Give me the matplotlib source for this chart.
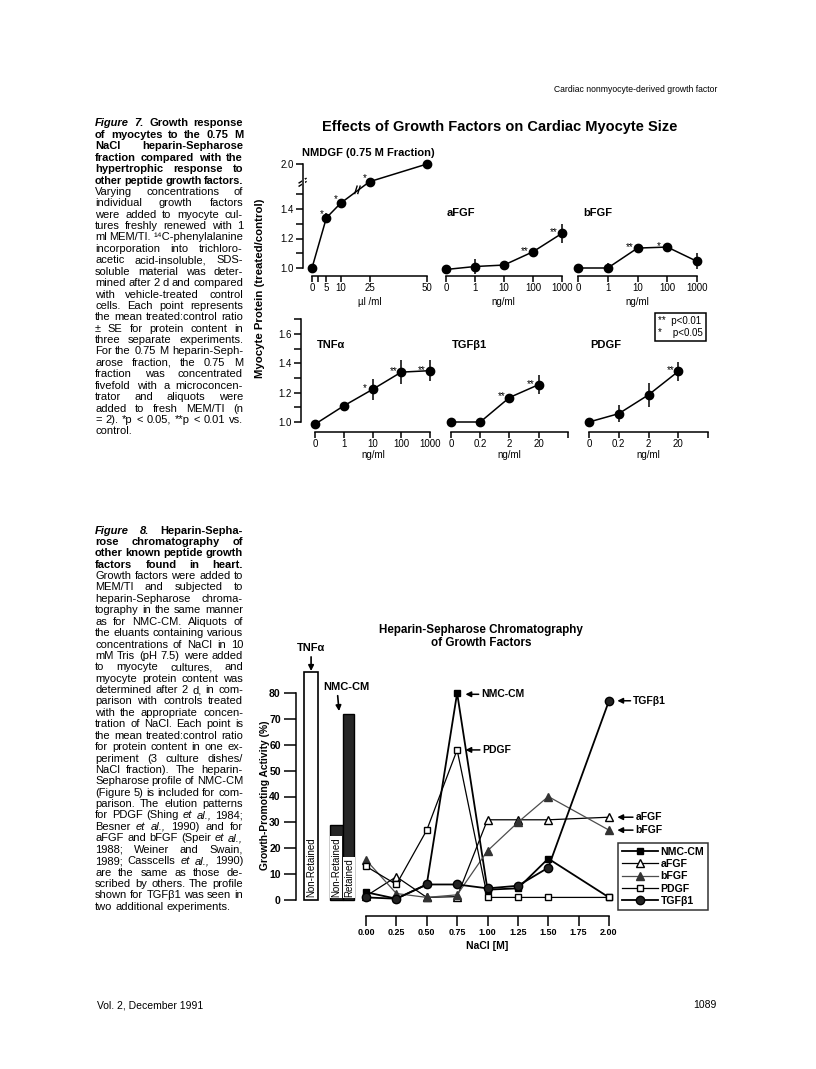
import matplotlib
matplotlib.use('Agg')
import matplotlib.pyplot as plt
from matplotlib.lines import Line2D
from matplotlib import font_manager

plt.rcParams['font.family'] = ['Liberation Sans', 'DejaVu Sans']
plt.rcParams['axes.linewidth'] = 1.1

# ---- Figure 7 data (treated/control ratios) ----
nmdgf_dose = [0, 6.25, 12.5, 25, 50]
nmdgf_val = [1.0, 1.34, 1.44, 1.88, 2.0]
nmdgf_err = [0, 0.03, 0.02, 0.015, 0]
nmdgf_sig = ['', '*', '*', '*', '']

ng_labels_5 = ['0', '1', '10', '100', '1000']
ng_labels_4 = ['0', '0.2', '2', '20', '']

afgf_val = [0.99, 1.01, 1.02, 1.11, 1.235]
afgf_err = [0, 0.05, 0.03, 0.01, 0.066]
afgf_sig = ['', '', '', '**', '**']

bfgf_val = [1.0, 1.0, 1.135, 1.142, 1.045]
bfgf_err = [0, 0.034, 0.01, 0.03, 0.054]
bfgf_sig = ['', '', '**', '*', '']

tnf_val = [0.985, 1.11, 1.222, 1.34, 1.35]
tnf_err = [0, 0.005, 0.07, 0.084, 0.07]
tnf_sig = ['', '', '*', '**', '**']

tgf_val = [1.0, 1.0, 1.167, 1.255]
tgf_err = [0, 0, 0.01, 0.065]
tgf_sig = ['', '', '**', '**']

pdgf_val = [1.0, 1.057, 1.185, 1.345]
pdgf_err = [0, 0.057, 0.08, 0.065]
pdgf_sig = ['', '', '', '**']

# ---- Figure 8 data (growth-promoting activity, %) ----
nacl = [0, 0.25, 0.5, 0.75, 1.0, 1.25, 1.5, 2.0]
nacl_ticks = [0, 0.25, 0.5, 0.75, 1.0, 1.25, 1.5, 1.75, 2.0]
nmc_cm = [3, 0.5, 6, 80, 4, 4.5, 16, 1]
afgf_hs = [1.5, 9, 1, 1.3, 31, 31, 31, 32]
bfgf_hs = [15.5, 2.5, 1, 2, 19, 30, 40, 27]
pdgf_hs = [13, 6, 27, 58, 1, 1, 1, 1]
tgfb1_hs = [1, 0.5, 6, 6, 4.5, 5.5, 12.5, 77]
bar_names = ['TNFα Non-Retained', 'NMC-CM Non-Retained', 'NMC-CM Retained']
bar_vals = [88, 29, 72]

W, H = 816, 1069
fig = plt.figure(figsize=(W / 100, H / 100), dpi=100)
fig.patch.set_facecolor('white')

installed = {f.name for f in font_manager.fontManager.ttflist}
narrow = 'Liberation Sans Narrow' if 'Liberation Sans Narrow' in installed else 'Liberation Sans'


def fx(px):
    return px / W


def fy(py):
    return 1 - py / H


def make_ax(xmap, ymap, xlim, ylim):
    # xmap/ymap: (data0, pixel0, data1, pixel1) -> axes placed so data lands on page pixels
    xd0, xp0, xd1, xp1 = xmap
    yd0, yp0, yd1, yp1 = ymap
    sx = (xp1 - xp0) / (xd1 - xd0)
    sy = (yp1 - yp0) / (yd1 - yd0)
    left = xp0 + (xlim[0] - xd0) * sx
    right = xp0 + (xlim[1] - xd0) * sx
    bottom = yp0 + (ylim[0] - yd0) * sy
    top = yp0 + (ylim[1] - yd0) * sy
    ax = fig.add_axes([left / W, 1 - bottom / H, (right - left) / W, (bottom - top) / H])
    ax.set_xlim(xlim)
    ax.set_ylim(ylim)
    ax.patch.set_visible(False)
    for s in ax.spines.values():
        s.set_visible(False)
    return ax


def stars(ax, xs, ys, sig, dx=-8, dy=-2):
    for xi, v, s in zip(xs, ys, sig):
        if s:
            ax.annotate(s, (xi, v), xytext=(dx, dy), textcoords='offset pixels',
                        ha='center', va='baseline', fontsize=7)


def dose_panel(ax, vals, errs, sig, labels):
    xs = list(range(len(vals)))
    ax.errorbar(xs, vals, yerr=errs, fmt='-o', color='black', ms=6, lw=1.1,
                elinewidth=1.1, capsize=0)
    stars(ax, xs, vals, sig)
    ax.spines['bottom'].set_visible(True)
    ax.spines['bottom'].set_bounds(0, len(labels) - 1)
    ax.set_xticks(range(len(labels)))
    ax.set_xticklabels(labels, fontsize=7)
    ax.tick_params(axis='x', direction='out', length=4, width=1.1, pad=1)
    ax.set_yticks([])


def ratio_axis(ax, ticks, labels, top):
    ax.spines['left'].set_visible(True)
    ax.spines['left'].set_bounds(1.0, top)
    ax.set_yticks(ticks)
    ax.set_yticklabels(labels, fontsize=7)
    ax.tick_params(axis='y', direction='out', length=5, width=1.1, pad=1.5)


# ================= Figure 7 =================
fig.text(fx(500), fy(127), 'Effects of Growth Factors on Cardiac Myocyte Size',
         ha='center', va='center', fontsize=10.5, weight='bold')

# NMDGF panel with a broken axis above 1.5
brk = 0.295
disp = [v if v < 1.6 else v - brk for v in nmdgf_val]
ax = make_ax((0, 312, 50, 427), (1.0, 268, 1.4, 209), (-4.1, 55), (0.946, 1.76))
ax.errorbar(nmdgf_dose, disp, yerr=nmdgf_err, fmt='-o', color='black', ms=6, lw=1.1,
            elinewidth=1.1, capsize=0)
stars(ax, nmdgf_dose, disp, nmdgf_sig, dx=-5, dy=1)
ratio_axis(ax, [1.0, 1.1, 1.2, 1.3, 1.4, 1.5, 2.0 - brk],
           ['1.0', '', '1.2', '', '1.4', '', '2.0'], 2.0 - brk)
ax.spines['bottom'].set_visible(True)
ax.spines['bottom'].set_bounds(0, 50)
ax.set_xticks([0, 2.5, 6.25, 12.5, 25, 50])
ax.set_xticklabels(['0', '', '5', '10', '25', '50'], fontsize=7)
ax.tick_params(axis='x', direction='out', length=4, width=1.1, pad=1)
# break marks on axis and on the line
for off in (0.0, 0.022):
    ax.plot([-5.6, -2.6], [1.555 + off, 1.585 + off], color='black', lw=1.0, clip_on=False)
    ax.plot([18.6 + off * 60, 19.6 + off * 60], [1.505, 1.555], color='black', lw=1.0)
ax.plot([-4.1, -4.1], [1.568, 1.596], color='white', lw=2.2, clip_on=False)

fig.text(fx(302), fy(153), 'NMDGF (0.75 M Fraction)', ha='left', va='center',
         fontsize=8, weight='bold')
fig.text(fx(370), fy(302), 'µl /ml', ha='center', va='center', fontsize=7)

ax = make_ax((0, 446, 4, 562), (1.0, 268, 1.4, 209), (-0.4, 4.3), (0.946, 1.76))
dose_panel(ax, afgf_val, afgf_err, afgf_sig, ng_labels_5)
fig.text(fx(447), fy(213), 'aFGF', ha='left', va='center', fontsize=8, weight='bold')
fig.text(fx(503), fy(302), 'ng/ml', ha='center', va='center', fontsize=7)

ax = make_ax((0, 578, 4, 697), (1.0, 268, 1.4, 209), (-0.4, 4.3), (0.946, 1.76))
dose_panel(ax, bfgf_val, bfgf_err, bfgf_sig, ng_labels_5)
fig.text(fx(583), fy(213), 'bFGF', ha='left', va='center', fontsize=8, weight='bold')
fig.text(fx(637), fy(302), 'ng/ml', ha='center', va='center', fontsize=7)

ax = make_ax((0, 315, 4, 430), (1.0, 422, 1.6, 334), (-0.5, 4.3), (0.932, 1.72))
dose_panel(ax, tnf_val, tnf_err, tnf_sig, ng_labels_5)
ratio_axis(ax, [1.0, 1.1, 1.2, 1.3, 1.4, 1.5, 1.6, 1.7],
           ['1.0', '', '1.2', '', '1.4', '', '1.6', ''], 1.7)
fig.text(fx(317), fy(345), 'TNFα', ha='left', va='center', fontsize=8, weight='bold')
fig.text(fx(373), fy(455), 'ng/ml', ha='center', va='center', fontsize=7)

ax = make_ax((0, 451, 4, 568), (1.0, 422, 1.6, 334), (-0.4, 4.3), (0.932, 1.72))
dose_panel(ax, tgf_val, tgf_err, tgf_sig, ng_labels_4)
fig.text(fx(452), fy(345), 'TGFβ1', ha='left', va='center', fontsize=8, weight='bold')
fig.text(fx(509), fy(455), 'ng/ml', ha='center', va='center', fontsize=7)

ax = make_ax((0, 589, 4, 708), (1.0, 422, 1.6, 334), (-0.4, 4.3), (0.932, 1.72))
dose_panel(ax, pdgf_val, pdgf_err, pdgf_sig, ng_labels_4)
fig.text(fx(590), fy(345), 'PDGF', ha='left', va='center', fontsize=8, weight='bold')
fig.text(fx(648), fy(455), 'ng/ml', ha='center', va='center', fontsize=7)
fig.text(fx(658), fy(327), '**  p<0.01\n*    p<0.05', ha='left', va='center', fontsize=7,
         linespacing=1.2,
         bbox=dict(boxstyle='square,pad=0.3', fc='white', ec='black', lw=1.1))

fig.text(fx(260), fy(288), 'Myocyte Protein (treated/control)', rotation=90,
         ha='center', va='center', fontsize=8.2, weight='bold')

# ================= Figure 8 =================
fig.text(fx(481), fy(630), 'Heparin-Sepharose Chromatography', ha='center', va='center',
         fontsize=8.4, weight='bold')
fig.text(fx(481), fy(643), 'of Growth Factors', ha='center', va='center',
         fontsize=8.4, weight='bold')

ax = make_ax((0, 366, 2.0, 609), (0, 900, 80, 693), (-0.576, 2.914), (-6.2, 100))
ax.spines['left'].set_visible(True)
ax.spines['left'].set_bounds(0, 80)
ax.spines['bottom'].set_visible(True)
ax.spines['bottom'].set_bounds(0, 2.0)
ax.set_yticks(range(0, 90, 10))
ax.set_yticklabels([str(v) for v in range(0, 90, 10)], fontsize=7.5, weight='bold')
ax.set_xticks(nacl_ticks)
ax.set_xticklabels(['%.2f' % v for v in nacl_ticks], fontsize=6.5, weight='bold')
ax.tick_params(axis='y', direction='out', length=9, width=1.1, pad=2)
ax.tick_params(axis='x', direction='out', length=7, width=1.1, pad=1.5)
fig.text(fx(487), fy(946), 'NaCl [M]', ha='center', va='center', fontsize=7.5, weight='bold')
fig.text(fx(265), fy(795), 'Growth-Promoting Activity (%)', rotation=90, ha='center',
         va='center', fontsize=7.4, weight='bold')

# bars for non-retained / retained fractions
bar_x = [-0.452, -0.245, -0.141]
bar_w = [0.112, 0.104, 0.09]
ax.bar(bar_x[0], bar_vals[0], width=bar_w[0], color='white', edgecolor='black', lw=1.2)
ax.bar(bar_x[1:], bar_vals[1:], width=bar_w[1:], color='#262626', edgecolor='black', lw=1.0)
ax.text(bar_x[0], 1.2, 'Non-Retained', rotation=90, ha='center', va='bottom', fontsize=7)
ax.text(bar_x[1], 1.2, 'Non-Retained', rotation=90, ha='center', va='bottom', fontsize=7,
        bbox=dict(boxstyle='square,pad=0.12', fc='white', ec='none'))
ax.text(bar_x[2], 1.2, 'Retained', rotation=90, ha='center', va='bottom', fontsize=7,
        bbox=dict(boxstyle='square,pad=0.12', fc='white', ec='none'))
arw = dict(arrowstyle='-|>', color='black', lw=1.2, mutation_scale=8, shrinkA=1, shrinkB=0)
ax.annotate('TNFα', xy=(bar_x[0], 88.5), xytext=(bar_x[0], 97.5), ha='center', va='center',
            fontsize=8, weight='bold', arrowprops=arw, annotation_clip=False)
ax.annotate('NMC-CM', xy=(-0.222, 73), xytext=(-0.16, 82.5), ha='center', va='center',
            fontsize=8, weight='bold',
            arrowprops=dict(arw, relpos=(0.3, 0.0)), annotation_clip=False)

styles = [
    ('NMC-CM', nmc_cm, dict(color='black', lw=1.3, marker='s', ms=5, mfc='black', mec='black')),
    ('aFGF', afgf_hs, dict(color='black', lw=0.9, marker='^', ms=6, mfc='white', mec='black')),
    ('bFGF', bfgf_hs, dict(color='#4d4d4d', lw=0.9, marker='^', ms=6, mfc='#333333', mec='#333333')),
    ('PDGF', pdgf_hs, dict(color='black', lw=0.9, marker='s', ms=5, mfc='white', mec='black')),
    ('TGFβ1', tgfb1_hs, dict(color='black', lw=1.3, marker='o', ms=6, mfc='#222222', mec='black')),
]
handles = []
for name, vals, st in styles:
    ax.plot(nacl, vals, clip_on=False, zorder=3, **st)
    handles.append(Line2D([], [], label=name, **st))

side = dict(arrowstyle='-|>', color='black', lw=1.1, mutation_scale=8, shrinkA=0, shrinkB=6)
ax.annotate('NMC-CM', xy=(0.75, 79.5), xytext=(0.95, 79.5), ha='left', va='center',
            fontsize=7.5, weight='bold', arrowprops=side)
ax.annotate('PDGF', xy=(0.75, 58), xytext=(0.96, 58), ha='left', va='center',
            fontsize=7.5, weight='bold', arrowprops=side)
ax.annotate('TGFβ1', xy=(2.0, 77), xytext=(2.2, 77), ha='left', va='center',
            fontsize=7.5, weight='bold', arrowprops=side)
ax.annotate('aFGF', xy=(2.0, 32), xytext=(2.22, 32), ha='left', va='center',
            fontsize=7.5, weight='bold', arrowprops=side)
ax.annotate('bFGF', xy=(2.0, 27), xytext=(2.22, 27), ha='left', va='center',
            fontsize=7.5, weight='bold', arrowprops=side)

leg = ax.legend(handles=handles, loc='upper right', bbox_to_anchor=(fx(708), fy(843)),
                bbox_transform=fig.transFigure, borderaxespad=0, frameon=True, fancybox=False,
                handlelength=3.4, handletextpad=0.25, labelspacing=0.22, borderpad=0.35,
                prop=dict(size=7.6, weight='bold'))
leg.get_frame().set_edgecolor('black')
leg.get_frame().set_linewidth(1.1)

# ================= page text =================
fig.text(fx(717), fy(90), 'Cardiac nonmyocyte-derived growth factor', ha='right',
         va='center', fontsize=6.2, family=[narrow, 'DejaVu Sans'])
fig.text(fx(97), fy(1005), 'Vol. 2, December 1991', ha='left', va='center', fontsize=7.5)
fig.text(fx(717), fy(1005), '1089', ha='right', va='center', fontsize=7.5)

cap7 = [
    '~Figure ~7. Growth response',
    'of myocytes to the 0.75 M',
    'NaCl heparin-Sepharose',
    'fraction compared with the',
    'hypertrophic response to',
    'other peptide growth factors.',
    'Varying concentrations of',
    'individual growth factors',
    'were added to myocyte cul-',
    'tures freshly renewed with 1',
    'ml MEM/TI. ¹⁴C-phenylalanine',
    'incorporation into trichloro-',
    'acetic acid-insoluble, SDS-',
    'soluble material was deter-',
    'mined after 2 d and compared',
    'with vehicle-treated control',
    'cells. Each point represents',
    'the mean treated:control ratio',
    '± SE for protein content in',
    'three separate experiments.',
    'For the 0.75 M heparin-Seph-',
    'arose fraction, the 0.75 M',
    'fraction was concentrated',
    'fivefold with a microconcen-',
    'trator and aliquots were',
    'added to fresh MEM/TI (n',
    '= 2). *p < 0.05, **p < 0.01 vs.',
    'control.',
]
cap8 = [
    '~Figure ~8. Heparin-Sepha-',
    'rose chromatography of',
    'other known peptide growth',
    'factors found in heart.',
    'Growth factors were added to',
    'MEM/TI and subjected to',
    'heparin-Sepharose chroma-',
    'tography in the same manner',
    'as for NMC-CM. Aliquots of',
    'the eluants containing various',
    'concentrations of NaCl in 10',
    'mM Tris (pH 7.5) were added',
    'to myocyte cultures, and',
    'myocyte protein content was',
    'determined after 2 d, in com-',
    'parison with controls treated',
    'with the appropriate concen-',
    'tration of NaCl. Each point is',
    'the mean treated:control ratio',
    'for protein content in one ex-',
    'periment (3 culture dishes/',
    'NaCl fraction). The heparin-',
    'Sepharose profile of NMC-CM',
    '(Figure 5) is included for com-',
    'parison. The elution patterns',
    'for PDGF (Shing ~et ~al., 1984;',
    'Besner ~et ~al., 1990) and for',
    'aFGF and bFGF (Speir ~et ~al.,',
    '1988; Weiner and Swain,',
    '1989; Casscells ~et ~al., 1990)',
    'are the same as those de-',
    'scribed by others. The profile',
    'shown for TGFβ1 was seen in',
    'two additional experiments.',
]

renderer = fig.canvas.get_renderer()


def caption(lines, x0, y0, width, n_bold, size=8.0, dy=11.4, min_gap=2.2):
    # justified caption column, one text per word
    for i, line in enumerate(lines):
        arts = []
        for w in line.split(' '):
            kw = dict(fontsize=size)
            if i < n_bold:
                kw['weight'] = 'bold'
            if w.startswith('~'):
                w = w[1:]
                kw['style'] = 'italic'
            arts.append(fig.text(0, fy(y0 + i * dy + 3.5), w, ha='left', va='baseline', **kw))
        widths = [a.get_window_extent(renderer).width for a in arts]
        need = sum(widths) + min_gap * (len(arts) - 1)
        if need > width:
            scale = (width - min_gap * (len(arts) - 1)) / sum(widths)
            for a in arts:
                a.set_fontsize(size * scale)
            widths = [a.get_window_extent(renderer).width for a in arts]
        if i == len(lines) - 1 or len(arts) == 1:
            gap = 2.8
        else:
            gap = (width - sum(widths)) / (len(arts) - 1)
        x = x0
        for a, wd in zip(arts, widths):
            a.set_x(fx(x))
            x += wd + gap


caption(cap7, 95, 123, 148, 6)
caption(cap8, 95, 530, 148, 4)

fig.savefig('out.png', dpi=100, facecolor='white')
